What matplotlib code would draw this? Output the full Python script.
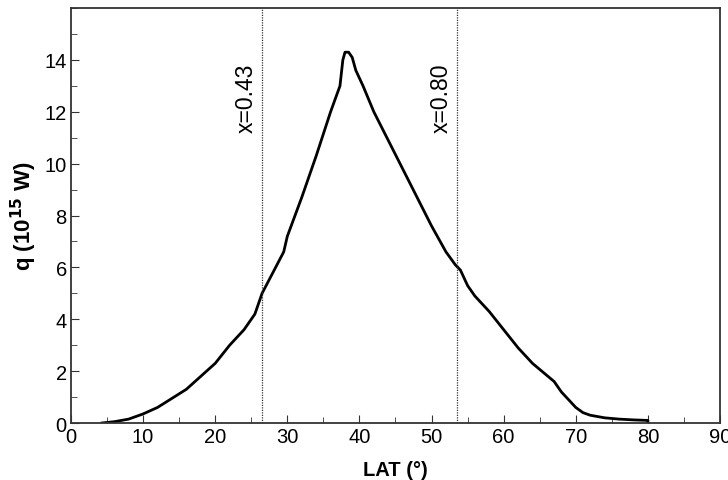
import numpy as np
import matplotlib
matplotlib.use('Agg')
import matplotlib.pyplot as plt
from matplotlib.ticker import MultipleLocator

plt.rcParams['font.family'] = ['Liberation Sans', 'DejaVu Sans']

# Transporte de calor por latitude
lat = [4.3, 6, 8, 10, 12, 14, 16, 18, 20, 22, 24, 25.5, 26.5, 28, 29.5, 30,
       32, 34, 36, 37.3, 37.7, 38.0, 38.5, 39, 39.5, 40.5, 42, 44, 46, 48,
       50, 52, 53.3, 54, 55, 56, 58, 60, 62, 64, 65.5, 67, 68, 70, 71, 72,
       74, 76, 78, 80, 80]
q = [0.0, 0.05, 0.15, 0.35, 0.6, 0.95, 1.3, 1.8, 2.3, 3.0, 3.6, 4.2, 5.0, 5.8,
     6.6, 7.2, 8.7, 10.3, 12.0, 13.0, 14.0, 14.3, 14.3, 14.1, 13.6, 13.0,
     12.0, 10.9, 9.8, 8.7, 7.6, 6.6, 6.1, 5.9, 5.3, 4.9, 4.3, 3.6, 2.9, 2.3,
     1.95, 1.6, 1.2, 0.6, 0.4, 0.3, 0.2, 0.15, 0.12, 0.1, 0.0]

# Linhas verticais de referência
linhas_x = [26.5, 53.5]
rotulos_x = ['x=0.43', 'x=0.80']
pos_rotulos = [(24.3, 12.55), (51.3, 12.55)]

fig = plt.figure(figsize=(7.28, 4.81), dpi=100)
ax = fig.add_axes([0.0975, 0.1185, 0.8915, 0.8625])

ax.plot(lat, q, color='black', linewidth=2.0, solid_joinstyle='round')

for xv, rot, (tx, ty) in zip(linhas_x, rotulos_x, pos_rotulos):
    ax.axvline(xv, color='#333333', linewidth=0.9, linestyle=(0, (1.0, 1.0)))
    ax.text(tx, ty, rot, rotation=90, ha='center', va='center', fontsize=16.5)

ax.set_xlim(0, 90)
ax.set_ylim(0, 16)
ax.set_xticks(np.arange(0, 91, 10))
ax.set_yticks(np.arange(0, 15, 2))
ax.xaxis.set_minor_locator(MultipleLocator(5))
ax.yaxis.set_minor_locator(MultipleLocator(1))
ax.tick_params(which='both', direction='in', labelsize=14.5, color='#333333')
ax.tick_params(which='major', length=6, pad=3)
ax.tick_params(which='minor', length=4)

for s in ax.spines.values():
    s.set_linewidth(1.3)
    s.set_color('#333333')

ax.set_xlabel('LAT (°)', fontsize=14.5, fontweight='bold', labelpad=10)
ax.set_ylabel('q (10$^{\\mathbf{15}}$ W)', fontsize=16, fontweight='bold', labelpad=4)

fig.savefig('out.png', dpi=100)
